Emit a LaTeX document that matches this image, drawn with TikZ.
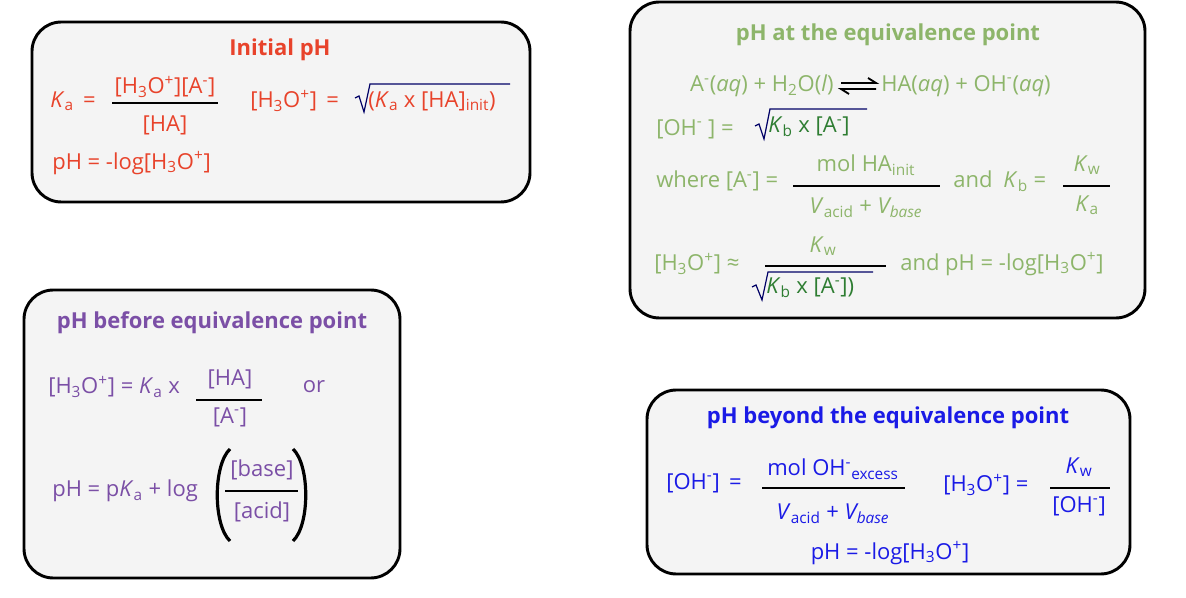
\documentclass[tikz,border=0pt]{standalone}
\usepackage{fontspec}
\setmainfont{Open Sans}
\definecolor{cred}{HTML}{E8432B}
\definecolor{cgl}{HTML}{8DB56A}
\definecolor{cgd}{HTML}{2E7D32}
\definecolor{cpu}{HTML}{7B4FA6}
\definecolor{cbl}{HTML}{1A1AE6}
\definecolor{boxbg}{HTML}{F4F4F4}
\newcommand\sbs[1]{\textsubscript{\upshape #1}}
\newcommand\sps[1]{\textsuperscript{#1}}
\begin{document}
\begin{tikzpicture}[x=0.75pt,y=-0.75pt,
  box/.style={draw=black,line width=2.2pt,rounded corners=22pt,fill=boxbg},
  t/.style={inner sep=0pt,font=\fontsize{16.5}{19}\selectfont},
  tl/.style={t,anchor=west},
  ttl/.style={inner sep=0pt,font=\bfseries\fontsize{16.5}{19}\selectfont},
  fl/.style={line width=1.6pt,black},
  rad/.style={line width=0.9pt,draw=blue!40!black}]
\useasboundingbox (0,0) rectangle (1186,598);
\fill[white] (0,0) rectangle (1186,598);
% boxes
\draw[box] (32,22) rectangle (530,202);
\draw[box] (630,2) rectangle (1145,318);
\draw[box] (24,290) rectangle (400,578);
\draw[box] (647,390) rectangle (1130,574);
% ---- Initial pH
\node[ttl,text=cred] (t1) at (280,50) {Initial pH};
\node[tl,text=cred] (ka1) at (50,101) {\textit{K}\sbs{a} \,=};
\node[t,text=cred] (n1) at (165,87) {[H\sbs{3}O\sps{+}][A\sps{-}]};
\draw[fl] (112,103) -- (218,103);
\node[t,text=cred] (d1) at (165,125) {[HA]};
\node[tl,text=cred] (h1) at (250,101) {[H\sbs{3}O\sps{+}] \,=};
\draw[rad] (355,98) -- (359,96) -- (364,112) -- (370,84) -- (510,84);
\node[tl,text=cred] (s1) at (368,101) {(\textit{K}\sbs{a} x [HA]\sbs{init})};
\node[tl,text=cred] (p1) at (52,163) {pH = -log[H\sbs{3}O\sps{+}]};
% ---- equivalence
\node[ttl,text=cgl] (t2) at (888,35) {pH at the equivalence point};
\node[t,anchor=east,text=cgl] (r2a) at (834,86) {A\sps{-}(\textit{aq}) + H\sbs{2}O(\textit{l})};
\node[tl,text=cgl] (r2b) at (881,86) {HA(\textit{aq}) + OH\sps{-}(\textit{aq})};
\draw[line width=1.4pt] (841,83) -- (876,83) -- (868,78);
\draw[line width=1.4pt] (876,89) -- (841,89) -- (849,94);
\node[tl,text=cgl] (o2) at (656,129) {[OH\sps{-} ] =};
\draw[rad] (755,126) -- (759,124) -- (764,139) -- (770,109) -- (867,109);
\node[tl,text=cgd] (s2) at (768,127) {\textit{K}\sbs{b} x [A\sps{-}]};
\node[tl,text=cgl] (w2) at (656,181) {where [A\sps{-}] =};
\draw[fl] (793,186) -- (940,186);
\node[t,text=cgl] (n2) at (866,165) {mol HA\sbs{init}};
\node[t,text=cgl] (d2) at (866,208) {\textit{V}\sbs{acid} + \textit{V\textsubscript{base}}};
\node[tl,text=cgl] (a2) at (953,181) {and\enspace\textit{K}\sbs{b} =};
\draw[fl] (1063,186) -- (1110,186);
\node[t,text=cgl] (kw2) at (1087,165) {\textit{K}\sbs{w}};
\node[t,text=cgl] (ka2) at (1087,205) {\textit{K}\sbs{a}};
\node[tl,text=cgl] (h2) at (654,264) {[H\sbs{3}O\sps{+}] ≈};
\draw[fl] (765,266) -- (886,266);
\node[t,text=cgl] (kw3) at (823,246) {\textit{K}\sbs{w}};
\draw[rad] (752,287) -- (756,285) -- (762,300) -- (768,272) -- (873,272);
\node[tl,text=cgd] (s3) at (766,288) {\textit{K}\sbs{b} x [A\sps{-}])};
\node[tl,text=cgl] (p2) at (900,264) {and pH = -log[H\sbs{3}O\sps{+}]};
% ---- before
\node[ttl,text=cpu] (t3) at (212,323) {pH before equivalence point};
\node[tl,text=cpu] (h3) at (48,387) {[H\sbs{3}O\sps{+}] = \textit{K}\sbs{a} x};
\draw[fl] (196,400) -- (262,400);
\node[t,text=cpu] (n3) at (230,379) {[HA]};
\node[t,text=cpu] (d3) at (230,417) {[A\sps{-}]};
\node[t,text=cpu] (or3) at (314,387) {or};
\node[tl,text=cpu] (p3) at (52,491) {pH = p\textit{K}\sbs{a} + log};
\draw[line width=2.4pt] (230,449) .. controls (213,465) and (213,525) .. (230,541);
\draw[line width=2.4pt] (293,449) .. controls (310,465) and (310,525) .. (293,541);
\draw[fl] (225,491) -- (298,491);
\node[t,text=cpu] (n4) at (262,470) {[base]};
\node[t,text=cpu] (d4) at (262,512) {[acid]};
% ---- beyond
\node[ttl,text=cbl] (t4) at (888,418) {pH beyond the equivalence point};
\node[tl,text=cbl] (o4) at (666,483) {[OH\sps{-}] \,=};
\draw[fl] (762,488) -- (905,488);
\node[t,text=cbl] (n5) at (833,469) {mol OH\sps{-}\sbs{excess}};
\node[t,text=cbl] (d5) at (833,514) {\textit{V}\sbs{acid} + \textit{V\textsubscript{base}}};
\node[tl,text=cbl] (h4) at (943,485) {[H\sbs{3}O\sps{+}] =};
\draw[fl] (1050,488) -- (1110,488);
\node[t,text=cbl] (kw4) at (1079,467) {\textit{K}\sbs{w}};
\node[t,text=cbl] (d6) at (1079,506) {[OH\sps{-}]};
\node[t,text=cbl] (p4) at (890,553) {pH = -log[H\sbs{3}O\sps{+}]};
\end{tikzpicture}
\end{document}
